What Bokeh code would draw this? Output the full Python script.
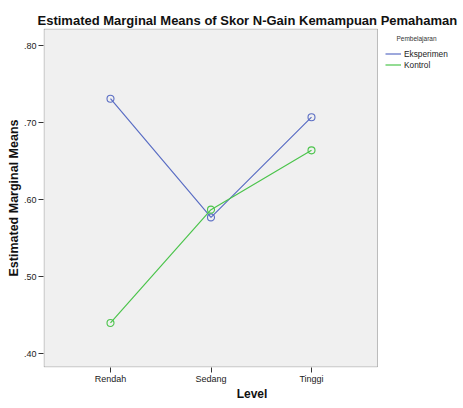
from bokeh.plotting import figure
from bokeh.models import Range1d, Legend, LegendItem, FixedTicker, CustomJSTickFormatter, BoxAnnotation, Label
from bokeh.embed import file_html
from bokeh.resources import INLINE

levels = ["Rendah", "Sedang", "Tinggi"]
eksperimen = [0.731, 0.577, 0.707]
kontrol = [0.440, 0.587, 0.664]
y_ticks = [0.40, 0.50, 0.60, 0.70, 0.80]
series_names = ["Eksperimen", "Kontrol"]
group_title = "Pembelajaran"
chart_title = "Estimated Marginal Means of Skor N-Gain Kemampuan Pemahaman"
x_title = "Level"
y_title = "Estimated Marginal Means"

FONT = "Liberation Sans"
BLUE = "#5b6ec4"
GREEN = "#4cc44c"
EDGE = "#333333"

x_pos = list(range(len(levels)))

# frame extends over the legend area; the grey plot area is a box annotation
p = figure(width=460, height=404,
           x_range=Range1d(-0.6667, 3.4826),
           y_range=Range1d(0.38223, 0.82206),
           output_backend="svg", toolbar_location=None,
           min_border_left=43, min_border_top=28, min_border_bottom=37, min_border_right=0)

p.title.text = chart_title
p.title.text_font = FONT
p.title.text_font_size = "13px"
p.title.text_font_style = "bold"
p.title.text_color = "#111111"
p.title.align = "left"
p.title.offset = -6
p.title.standoff = 1

p.background_fill_color = "white"
p.border_fill_color = "white"
p.outline_line_color = None
p.grid.visible = False

plot_area = BoxAnnotation(left=-0.6617, right=2.6567, bottom=0.38288, top=0.82141,
                          fill_color="#f0f0f0", fill_alpha=1.0,
                          line_color=EDGE, line_width=1, level="underlay")
p.add_layout(plot_area)

for ax in (p.xaxis[0], p.yaxis[0]):
    ax.axis_line_color = None
    ax.major_tick_line_color = EDGE
    ax.major_tick_out = 5
    ax.major_tick_in = 0
    ax.minor_tick_line_color = None
    ax.major_label_text_font = FONT
    ax.major_label_text_font_size = "9px"
    ax.major_label_text_color = "#222222"
    ax.axis_label_text_font = FONT
    ax.axis_label_text_font_style = "bold"
    ax.axis_label_text_color = "#111111"

p.xaxis.axis_label = x_title
p.yaxis.axis_label = y_title
p.xaxis.axis_label_text_font_size = "12px"
p.yaxis.axis_label_text_font_size = "12.5px"
p.xaxis.major_label_standoff = 1
p.xaxis.axis_label_standoff = 0
p.yaxis.major_label_standoff = 2
p.yaxis.axis_label_standoff = 0
p.xaxis.ticker = FixedTicker(ticks=x_pos)
p.xaxis.major_label_overrides = {i: name for i, name in zip(x_pos, levels)}
p.yaxis.ticker = FixedTicker(ticks=y_ticks)
p.yaxis.formatter = CustomJSTickFormatter(code="return tick.toFixed(2).replace(/^0/, '');")

l1 = p.line(x_pos, eksperimen, line_color=BLUE, line_width=1.2)
p.scatter(x_pos, eksperimen, marker="circle", size=7, fill_color=None, line_color=BLUE, line_width=1.1)
l2 = p.line(x_pos, kontrol, line_color=GREEN, line_width=1.2)
p.scatter(x_pos, kontrol, marker="circle", size=7, fill_color=None, line_color=GREEN, line_width=1.1)

legend = Legend(items=[LegendItem(label=series_names[0], renderers=[l1]),
                       LegendItem(label=series_names[1], renderers=[l2])],
                location=(342, 297))
legend.label_text_font = FONT
legend.label_text_font_size = "8.3px"
legend.label_text_color = "#222222"
legend.glyph_width = 16
legend.glyph_height = 11
legend.label_height = 11
legend.label_standoff = 3
legend.spacing = 0
legend.padding = 1
legend.margin = 0
legend.border_line_color = None
legend.background_fill_alpha = 0
p.add_layout(legend)

legend_title = Label(x=373, y=329.5, x_units="screen", y_units="screen", text=group_title,
                     text_font=FONT, text_font_size="6.5px", text_color="#333333",
                     text_align="center", text_baseline="middle")
p.add_layout(legend_title)

open("out.html", "w").write(file_html(p, INLINE))
